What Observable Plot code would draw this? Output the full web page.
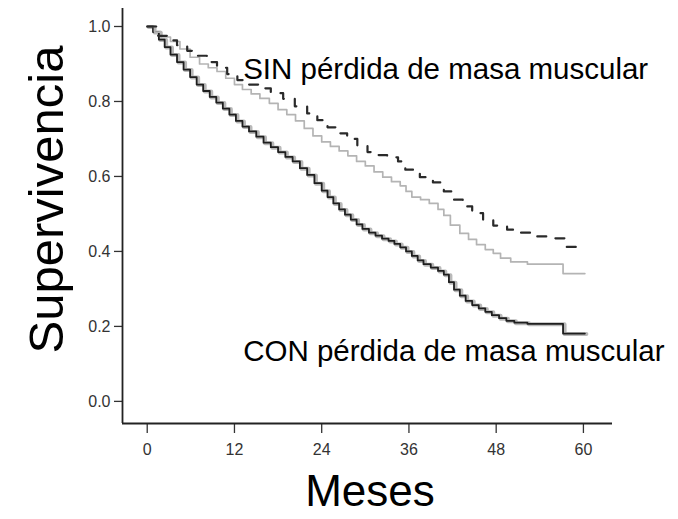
<!DOCTYPE html>
<html>
<head>
<meta charset="utf-8">
<script src="https://cdn.jsdelivr.net/npm/d3@7"></script>
<script src="https://cdn.jsdelivr.net/npm/@observablehq/plot@0.6"></script>
<style>
  html, body { margin: 0; padding: 0; background: #fff; }
  #chart svg { display: block; }
</style>
</head>
<body>
<div id="chart"></div>
<script>
// Months (x) and survival (y), Kaplan–Meier step points
const conMonths = [0, 0.8, 1.6, 2.4, 3.2, 4.1, 5.0, 5.9, 6.8, 7.7, 8.6, 9.5, 10.4, 11.3, 12.2, 13.1, 14.0, 15.0, 16.0, 17.0, 18.0, 19.0, 20.0, 21.0, 22.0, 23.0, 24.0, 24.8, 25.6, 26.4, 27.2, 28.0, 28.8, 29.6, 30.5, 31.4, 32.3, 33.2, 34.0, 34.8, 35.6, 36.4, 37.2, 38.0, 39.0, 40.0, 40.8, 41.5, 42.2, 43.0, 43.8, 44.7, 45.6, 46.5, 47.4, 48.4, 49.4, 50.5, 52.3, 57.2, 60.2];
const conSurv   = [1.0, 0.985, 0.965, 0.945, 0.925, 0.905, 0.885, 0.865, 0.845, 0.828, 0.812, 0.797, 0.781, 0.765, 0.748, 0.733, 0.720, 0.706, 0.690, 0.678, 0.665, 0.652, 0.640, 0.622, 0.604, 0.582, 0.562, 0.545, 0.528, 0.512, 0.498, 0.485, 0.472, 0.460, 0.450, 0.442, 0.434, 0.428, 0.420, 0.411, 0.400, 0.388, 0.376, 0.366, 0.357, 0.348, 0.338, 0.318, 0.298, 0.282, 0.268, 0.257, 0.248, 0.239, 0.230, 0.222, 0.215, 0.210, 0.207, 0.181, 0.181];

const sinGrayMonths = [0, 1.0, 2.0, 3.2, 4.5, 5.9, 7.2, 8.4, 9.6, 10.8, 12.0, 13.1, 14.3, 15.5, 16.8, 18.0, 19.2, 20.4, 21.6, 22.8, 24.0, 25.2, 26.4, 27.6, 28.8, 30.0, 31.2, 32.4, 33.6, 34.8, 35.6, 36.4, 37.6, 38.8, 40.0, 40.8, 41.7, 43.0, 44.2, 45.3, 46.5, 47.6, 48.6, 50.0, 52.3, 57.2, 60.2];
const sinGraySurv   = [1.0, 0.985, 0.972, 0.960, 0.940, 0.918, 0.900, 0.890, 0.880, 0.862, 0.845, 0.832, 0.820, 0.808, 0.795, 0.778, 0.765, 0.748, 0.728, 0.708, 0.692, 0.680, 0.668, 0.655, 0.640, 0.628, 0.612, 0.598, 0.586, 0.575, 0.560, 0.545, 0.538, 0.528, 0.512, 0.496, 0.470, 0.448, 0.432, 0.418, 0.405, 0.395, 0.382, 0.372, 0.366, 0.341, 0.341];

const sinDashMonths = [0, 1.5, 2.8, 4.1, 5.5, 6.9, 8.2, 9.6, 11.0, 12.4, 14.0, 15.5, 17.0, 18.7, 20.3, 22.0, 23.4, 24.8, 26.2, 27.5, 28.9, 30.3, 31.6, 33.0, 34.5, 35.5, 37.5, 39.3, 40.8, 42.1, 43.4, 44.7, 46.2, 47.6, 49.5, 51.3, 53.5, 55.4, 57.5, 60.2];
const sinDashSurv   = [1.0, 0.975, 0.963, 0.950, 0.935, 0.922, 0.905, 0.890, 0.873, 0.857, 0.845, 0.835, 0.822, 0.807, 0.787, 0.768, 0.750, 0.731, 0.715, 0.700, 0.683, 0.665, 0.657, 0.651, 0.640, 0.618, 0.598, 0.584, 0.560, 0.538, 0.520, 0.502, 0.485, 0.469, 0.458, 0.450, 0.440, 0.435, 0.412, 0.412];

const xTicks = [0, 12, 24, 36, 48, 60];
const yTicks = [0, 0.2, 0.4, 0.6, 0.8, 1.0];
const groupLabels = ["SIN pérdida de masa muscular", "CON pérdida de masa muscular"];
const labelMonths = [13.2, 13.2];
const labelSurv = [0.885, 0.133];
const xTitle = "Meses";
const yTitle = "Supervivencia";

const toRows = (ms, ss) => ms.map((m, i) => ({m, s: ss[i]}));
const con = toRows(conMonths, conSurv);
const sinGray = toRows(sinGrayMonths, sinGraySurv);
const sinDash = toRows(sinDashMonths, sinDashSurv);
const labels = groupLabels.map((t, i) => ({t, m: labelMonths[i], s: labelSurv[i]}));

const xDomain = [-3.4, 64];
const yDomain = [-0.059, 1.048];
const font = "'Liberation Sans', Arial, Helvetica, sans-serif";
const fmtY = d3.format(".1f");

const chart = Plot.plot({
  width: 678,
  height: 519,
  marginLeft: 122,
  marginRight: 66,
  marginTop: 8,
  marginBottom: 96,
  style: {fontFamily: font, background: "#fff"},
  x: {domain: xDomain, axis: null},
  y: {domain: yDomain, axis: null},
  marks: [
    Plot.axisY(yTicks, {text: null, tickSize: 8, stroke: "#333", strokeWidth: 1.3, label: null}),
    Plot.axisX(xTicks, {text: null, tickSize: 10, stroke: "#333", strokeWidth: 1.3, label: null}),
    Plot.text(yTicks, {x: xDomain[0], y: d => d, text: d => fmtY(d), textAnchor: "end", dx: -12, fontSize: 16, fill: "#333"}),
    Plot.text(xTicks, {x: d => d, y: yDomain[0], text: d => String(d), dy: 26, fontSize: 16, fill: "#333"}),
    Plot.ruleX([xDomain[0]], {y1: yDomain[0], y2: yDomain[1], stroke: "#222", strokeWidth: 1.8}),
    Plot.ruleY([yDomain[0]], {x1: xDomain[0], x2: xDomain[1], stroke: "#222", strokeWidth: 1.8}),
    Plot.line(con, {x: "m", y: "s", curve: "step-after", stroke: "#a8a8a8", strokeWidth: 4, strokeOpacity: 0.8, dx: 1.5, dy: 0.5}),
    Plot.line(con, {x: "m", y: "s", curve: "step-after", stroke: "#1e1e1e", strokeWidth: 1.8}),
    Plot.line(sinGray, {x: "m", y: "s", curve: "step-after", stroke: "#b4b4b4", strokeWidth: 1.7}),
    Plot.line(sinDash, {x: "m", y: "s", curve: "step-after", stroke: "#2a2a2a", strokeWidth: 2.2, strokeDasharray: "9,11"}),
    Plot.text(labels, {x: "m", y: "s", text: "t", textAnchor: "start", lineAnchor: "middle", fontSize: 29.5, fill: "#000"})
  ]
});

const svg = d3.select(chart);
// Axis titles, placed relative to the frame
const frameLeft = 122, frameTop = 8, frameBottom = 519 - 96, frameRight = 678 - 66;
svg.append("text")
  .attr("transform", `translate(${frameLeft - 76},${(frameTop + frameBottom) / 2 - 16}) rotate(-90)`)
  .attr("text-anchor", "middle")
  .attr("dy", "0.35em")
  .attr("font-family", font)
  .attr("font-size", 49)
  .attr("fill", "#000")
  .text(yTitle);
svg.append("text")
  .attr("x", (frameLeft + frameRight) / 2 + 3)
  .attr("y", frameBottom + 68)
  .attr("text-anchor", "middle")
  .attr("dy", "0.35em")
  .attr("font-family", font)
  .attr("font-size", 44)
  .attr("fill", "#000")
  .text(xTitle);
document.getElementById("chart").appendChild(chart);
</script>
</body>
</html>
